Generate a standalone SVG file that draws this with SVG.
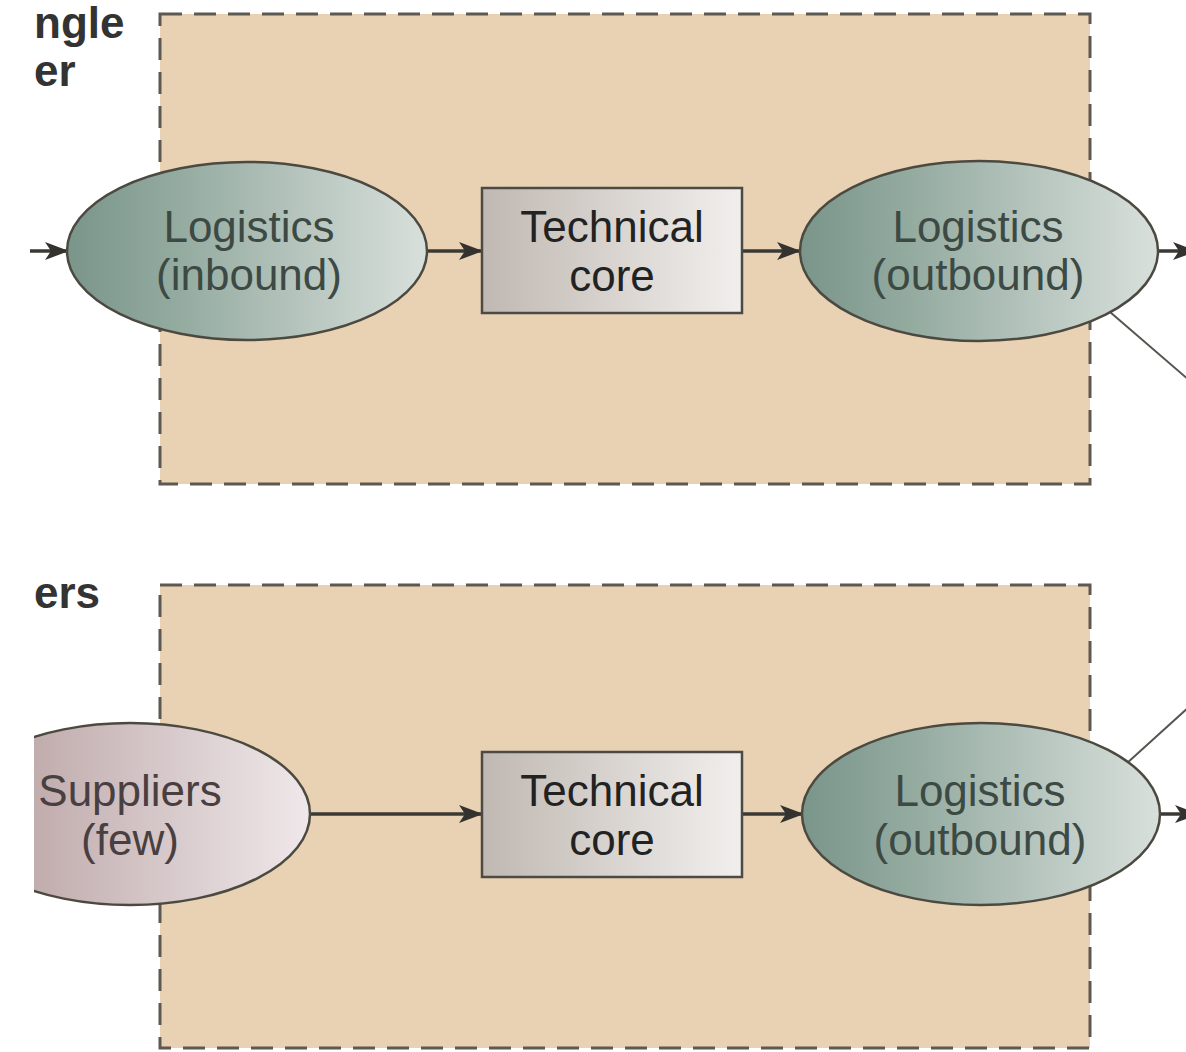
<svg xmlns="http://www.w3.org/2000/svg" width="1186" height="1052" viewBox="0 0 1186 1052">
<style>
.box{fill:#e8d2b3;stroke:#5e5950;stroke-width:3;stroke-dasharray:22 12}
.lbl{font-family:"Liberation Sans",Arial,sans-serif;font-size:44px;text-anchor:middle}
.ell{stroke:#4c4a40;stroke-width:2.5}
.head{font-family:"Liberation Sans",Arial,sans-serif;font-size:44px;font-weight:bold;fill:#333}
.conn{stroke:#3a3934;stroke-width:3.5;fill:none}
.thin{stroke:#55544e;stroke-width:2;fill:none}
</style>
<defs>
<linearGradient id="gGreen" x1="0" y1="0" x2="1" y2="0">
<stop offset="0" stop-color="#7a958a"/><stop offset="0.3" stop-color="#93aa9f"/><stop offset="1" stop-color="#d9e0dc"/>
</linearGradient>
<linearGradient id="gGray" x1="0" y1="0" x2="1" y2="0">
<stop offset="0" stop-color="#c0b8b2"/><stop offset="1" stop-color="#f1efed"/>
</linearGradient>
<linearGradient id="gPink" x1="0" y1="0" x2="1" y2="0">
<stop offset="0" stop-color="#b39a9b"/><stop offset="1" stop-color="#efe8ea"/>
</linearGradient>
<marker id="arr" viewBox="0 0 24 18" refX="23" refY="9" markerWidth="24" markerHeight="18" markerUnits="userSpaceOnUse" orient="auto">
<path d="M0,0 L24,9 L0,18 L6,9 Z" fill="#33322e"/>
</marker>
<clipPath id="clipL"><rect x="34" y="0" width="1152" height="1052"/></clipPath>
</defs>
<rect width="1186" height="1052" fill="#ffffff"/>
<g id="titles">
<text class="head" x="34" y="38">ngle</text>
<text class="head" x="34" y="86">er</text>
<text class="head" x="34" y="608">ers</text>
</g>
<g id="panel-top"><rect class="box" x="160" y="14" width="930" height="470"/></g>
<g id="panel-bottom"><rect class="box" x="160" y="585" width="930" height="463"/></g>
<g id="connectors">
<line class="conn" x1="30" y1="251" x2="68" y2="251" marker-end="url(#arr)"/>
<line class="conn" x1="427" y1="251" x2="482" y2="251" marker-end="url(#arr)"/>
<line class="conn" x1="742" y1="251" x2="800" y2="251" marker-end="url(#arr)"/>
<line class="conn" x1="1158" y1="251" x2="1196" y2="251" marker-end="url(#arr)"/>
<line class="thin" x1="1110" y1="312" x2="1190" y2="381"/>
<line class="conn" x1="310" y1="814" x2="482" y2="814" marker-end="url(#arr)"/>
<line class="conn" x1="742" y1="814" x2="803" y2="814" marker-end="url(#arr)"/>
<line class="conn" x1="1160" y1="814" x2="1198" y2="814" marker-end="url(#arr)"/>
<line class="thin" x1="1126" y1="764" x2="1190" y2="706"/>
</g>
<g id="log-in">
<ellipse class="ell" cx="247" cy="251" rx="180" ry="89" fill="url(#gGreen)"/>
<text class="lbl" fill="#3d4a44" x="249" y="242">Logistics</text>
<text class="lbl" fill="#3d4a44" x="249" y="290">(inbound)</text>
</g>
<g id="tech-top">
<rect x="482" y="188" width="260" height="125" fill="url(#gGray)" stroke="#4c4a44" stroke-width="2.5"/>
<text class="lbl" fill="#222" x="612" y="242">Technical</text>
<text class="lbl" fill="#222" x="612" y="291">core</text>
</g>
<g id="log-out-top">
<ellipse class="ell" cx="979" cy="251" rx="179" ry="90" fill="url(#gGreen)"/>
<text class="lbl" fill="#3d4a44" x="978" y="242">Logistics</text>
<text class="lbl" fill="#3d4a44" x="978" y="290">(outbound)</text>
</g>
<g id="suppliers" clip-path="url(#clipL)">
<ellipse class="ell" cx="130" cy="814" rx="180" ry="91" fill="url(#gPink)"/>
<text class="lbl" fill="#4a3f40" x="130" y="806">Suppliers</text>
<text class="lbl" fill="#4a3f40" x="130" y="855">(few)</text>
</g>
<g id="tech-bottom">
<rect x="482" y="752" width="260" height="125" fill="url(#gGray)" stroke="#4c4a44" stroke-width="2.5"/>
<text class="lbl" fill="#222" x="612" y="806">Technical</text>
<text class="lbl" fill="#222" x="612" y="855">core</text>
</g>
<g id="log-out-bottom">
<ellipse class="ell" cx="981" cy="814" rx="179" ry="91" fill="url(#gGreen)"/>
<text class="lbl" fill="#3d4a44" x="980" y="806">Logistics</text>
<text class="lbl" fill="#3d4a44" x="980" y="855">(outbound)</text>
</g>
</svg>
